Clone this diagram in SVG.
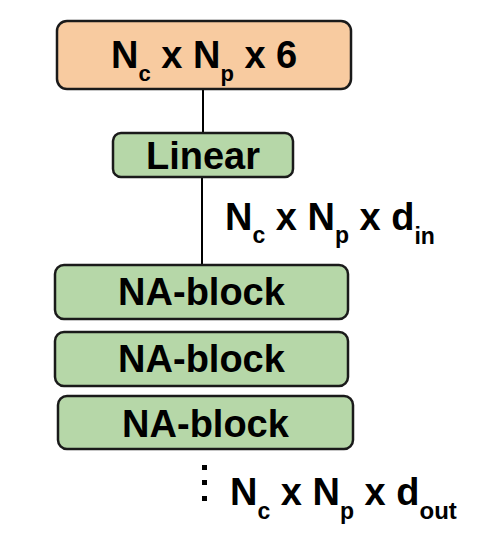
<svg xmlns="http://www.w3.org/2000/svg" width="482" height="552" viewBox="0 0 482 552">
  <style>
    .box { stroke: #1a1a1a; stroke-width: 2.5; }
    .input { fill: #f8cba0; }
    .layer { fill: #b6d7a8; }
    .lbl { font-family: "Liberation Sans", Arial, sans-serif; font-weight: bold; fill: #000; }
    .wire { stroke: #000; stroke-width: 2; fill: none; }
  </style>
  <rect width="482" height="552" fill="#fff"/>

  <g id="connectors">
    <line class="wire" x1="203" y1="89" x2="203" y2="133"/>
    <line class="wire" x1="202" y1="177" x2="202" y2="265"/>
    <rect x="202" y="465" width="5" height="5" fill="#000"/>
    <rect x="202" y="480" width="5" height="5" fill="#000"/>
    <rect x="202" y="496" width="5" height="5" fill="#000"/>
  </g>

  <g id="input">
    <rect class="box input" x="57" y="21" width="294" height="68" rx="10"/>
    <text class="lbl" x="111" y="68" font-size="38">N<tspan font-size="22" dy="13">c</tspan><tspan dy="-13"> x N</tspan><tspan font-size="22" dy="13">p</tspan><tspan dy="-13"> x 6</tspan></text>
  </g>

  <g id="linear">
    <rect class="box layer" x="113" y="133" width="180" height="44" rx="8"/>
    <text class="lbl" x="203" y="169" font-size="38" text-anchor="middle">Linear</text>
  </g>

  <g id="dim-in">
    <text class="lbl" x="225" y="230" font-size="38">N<tspan font-size="23" dy="13">c</tspan><tspan dy="-13"> x N</tspan><tspan font-size="23" dy="13">p</tspan><tspan dy="-13"> x d</tspan><tspan font-size="23" dy="14">in</tspan></text>
  </g>

  <g id="na-block-1">
    <rect class="box layer" x="55" y="265" width="293" height="54" rx="9"/>
    <text class="lbl" x="201.5" y="305" font-size="38" text-anchor="middle">NA-block</text>
  </g>

  <g id="na-block-2">
    <rect class="box layer" x="55" y="332" width="293" height="54" rx="9"/>
    <text class="lbl" x="201.5" y="372" font-size="38" text-anchor="middle">NA-block</text>
  </g>

  <g id="na-block-3">
    <rect class="box layer" x="58" y="396" width="295" height="53" rx="9"/>
    <text class="lbl" x="205.5" y="437" font-size="38" text-anchor="middle">NA-block</text>
  </g>

  <g id="dim-out">
    <text class="lbl" x="230" y="505" font-size="38">N<tspan font-size="23" dy="14">c</tspan><tspan dy="-14"> x N</tspan><tspan font-size="23" dy="14">p</tspan><tspan dy="-14"> x d</tspan><tspan font-size="24" dy="14">out</tspan></text>
  </g>
</svg>
